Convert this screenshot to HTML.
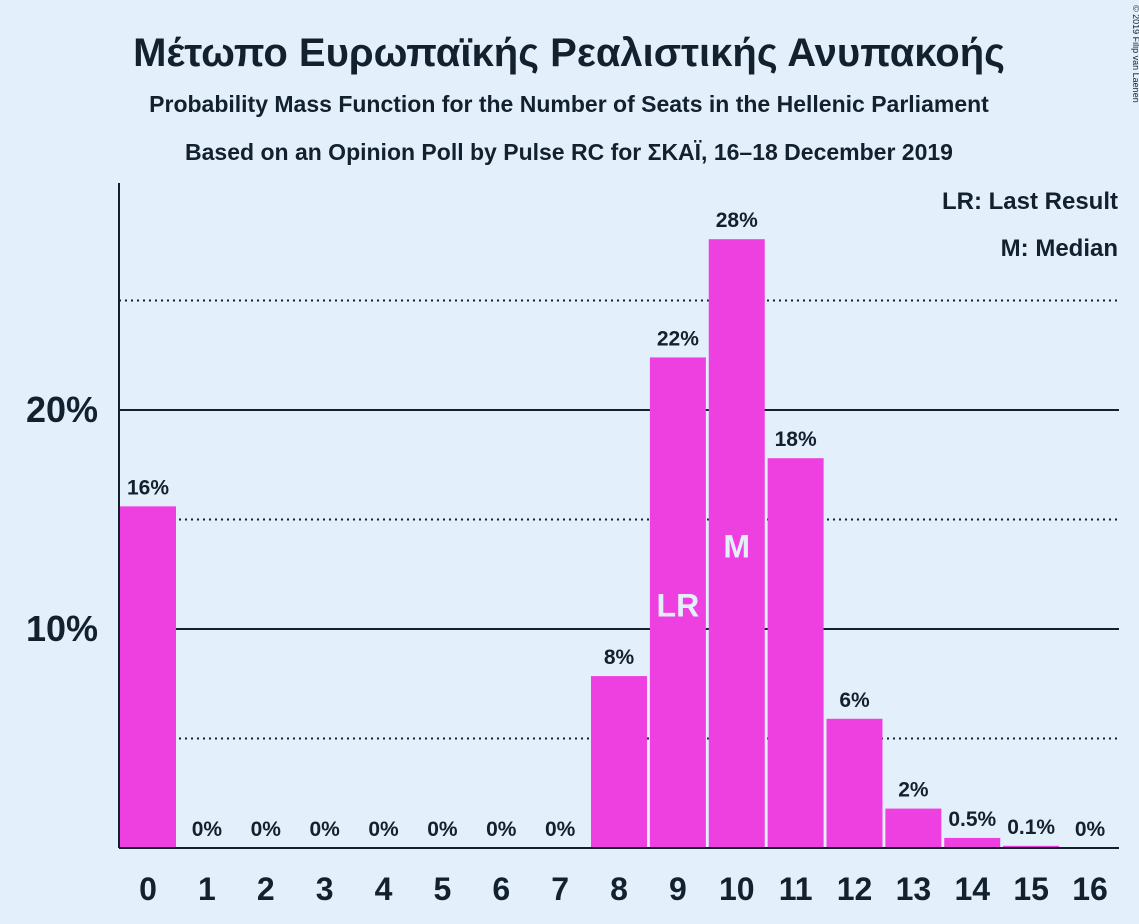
<!DOCTYPE html>
<html><head><meta charset="utf-8"><style>
body{margin:0;background:#e3f0fc;}
svg{display:block;font-family:"Liberation Sans",sans-serif;}
</style></head><body>
<svg id="c" width="1139" height="924">
<rect width="1139" height="924" fill="#e3f0fc"/>
<text x="569" y="66" text-anchor="middle" font-size="40" font-weight="bold" fill="#13202e">Μέτωπο Ευρωπαϊκής Ρεαλιστικής Ανυπακοής</text>
<text x="569" y="112" text-anchor="middle" font-size="23" font-weight="bold" fill="#13202e">Probability Mass Function for the Number of Seats in the Hellenic Parliament</text>
<text x="569" y="160" text-anchor="middle" font-size="23" font-weight="bold" fill="#13202e">Based on an Opinion Poll by Pulse RC for ΣΚΑΪ, 16–18 December 2019</text>
<text x="1133" y="5" font-size="9" fill="#13202e" transform="rotate(90 1133 5)">© 2019 Filip van Laenen</text>
<text x="1118" y="209" text-anchor="end" font-size="24" font-weight="bold" fill="#13202e">LR: Last Result</text>
<text x="1118" y="256" text-anchor="end" font-size="24" font-weight="bold" fill="#13202e">M: Median</text>
<g id="grid"></g><g id="bars"></g><g id="axes"></g>
</svg>
<script>
const categories=[0,1,2,3,4,5,6,7,8,9,10,11,12,13,14,15,16];
const values=[15.6,0,0,0,0,0,0,0,7.85,22.4,27.8,17.8,5.9,1.8,0.46,0.1,0];
const valueLabels=["16%","0%","0%","0%","0%","0%","0%","0%","8%","22%","28%","18%","6%","2%","0.5%","0.1%","0%"];
const yTicks=[10,20];
const yTickLabels=["10%","20%"];
const dottedTicks=[5,15,25];
const markers={9:"LR",10:"M"};
const NS="http://www.w3.org/2000/svg";
const x0=119,baseY=848,pxPer=21.9,step=58.875,barW=56;
const y=v=>baseY-v*pxPer;
const xc=i=>148+i*step;
function mk(t,a,p){const e=document.createElementNS(NS,t);for(const k in a)e.setAttribute(k,a[k]);p.appendChild(e);return e;}
const g=document.getElementById('grid'),b=document.getElementById('bars'),ax=document.getElementById('axes');
dottedTicks.forEach(t=>{const l=mk('line',{x1:x0,x2:1119,y1:y(t),y2:y(t),stroke:'#13202e','stroke-width':2,'stroke-dasharray':'2,4'},g);

});
yTicks.forEach((t,i)=>{const l=mk('line',{x1:x0,x2:1119,y1:y(t),y2:y(t),stroke:'#13202e','stroke-width':2},g);


const tx=mk('text',{x:98,y:y(t)+12,'text-anchor':'end','font-size':36,'font-weight':'bold',fill:'#13202e'},ax);tx.textContent=yTickLabels[i];

});
categories.forEach((c,i)=>{const v=values[i];
if(v>0){const r=mk('rect',{x:xc(i)-barW/2,y:y(v),width:barW,height:v*pxPer,fill:'#ee40e0'},b);

}
const lt=mk('text',{x:xc(i),y:y(v)-12,'text-anchor':'middle','font-size':21,'font-weight':'bold',fill:'#13202e'},b);lt.textContent=valueLabels[i];


if(markers[c]){const m=mk('text',{x:xc(i),y:y(v/2)+14,'text-anchor':'middle','font-size':32,'font-weight':'bold',fill:'#e3f0fc'},b);m.textContent=markers[c];

}
const xt=mk('text',{x:xc(i),y:900,'text-anchor':'middle','font-size':32,'font-weight':'bold',fill:'#13202e'},ax);xt.textContent=c;

});
const ya=mk('line',{x1:x0,x2:x0,y1:183,y2:baseY,stroke:'#13202e','stroke-width':2},ax);


const xa=mk('line',{x1:x0,x2:1119,y1:baseY,y2:baseY,stroke:'#13202e','stroke-width':2},ax);


</script>
</body></html>
